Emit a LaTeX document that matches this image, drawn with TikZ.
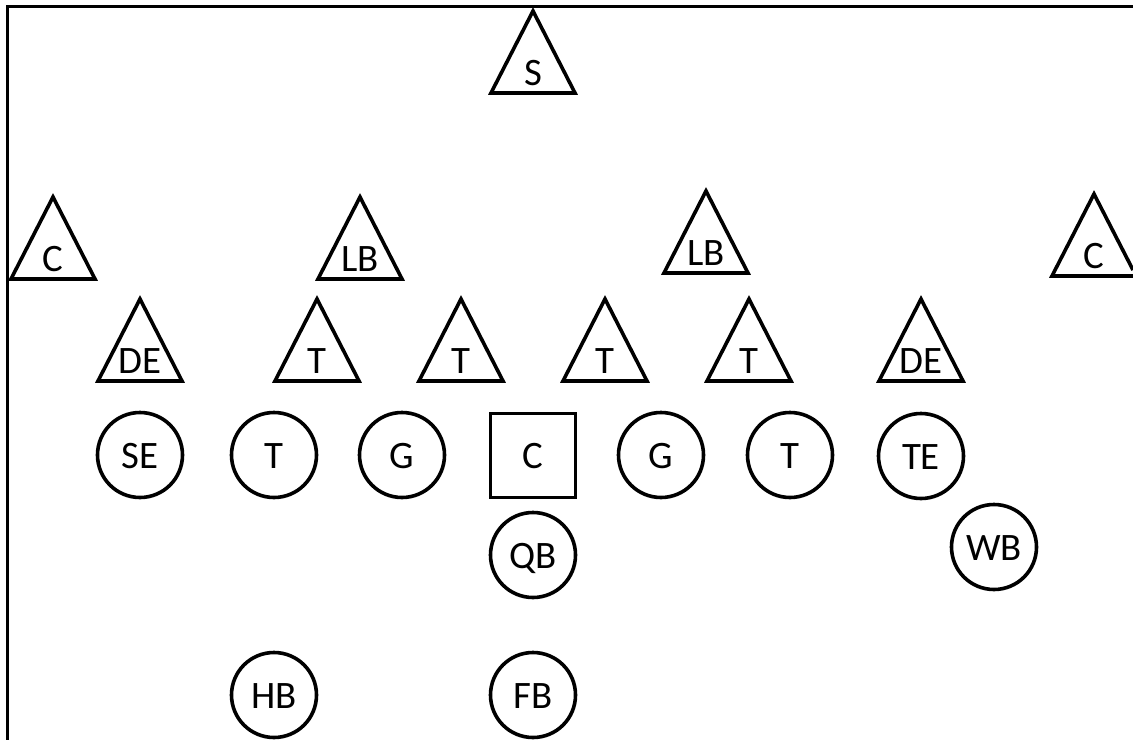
\documentclass[tikz,border=0pt]{standalone}
\usepackage{fontspec}
\setmainfont{Carlito}
\tikzset{
  pl/.style={line width=3.6bp, draw=black, line join=miter},
  lbl/.style={font=\fontsize{39}{42}\selectfont, inner sep=0pt, anchor=base},
  ring/.style={pl, circle, minimum size=85bp, inner sep=0pt},
  sq/.style={pl, rectangle, minimum width=85bp, minimum height=84bp, inner sep=0pt}
}
\newcommand\mytri[4]{%
  \draw[pl] (#2,#3+4) -- (#2+42,#3+86) -- (#2-42,#3+86) -- cycle;
  \node[lbl] (#1) at (#2,#3+78.5) {#4};
}
\newcommand\myring[4]{%
  \node[ring] (#1) at (#2,#3) {};
  \node[lbl] (#1-t) at (#2,#3+13) {#4};
}
\begin{document}
\begin{tikzpicture}[x=1bp,y=-1bp]
  \useasboundingbox (0,0) rectangle (1133,740);
  % frame
  \draw[line width=2.6bp] (7.5,740) -- (7.5,6.5) -- (1133,6.5);
  % defence
  \mytri{s}{533}{7}{S}
  \mytri{cl}{53}{193}{C}
  \mytri{lbl}{360}{193}{LB}
  \mytri{lbr}{706}{187}{LB}
  % right C, cut by the picture's edge
  \draw[pl] (1133,270) -- (1094,194) -- (1052,276) -- (1133,276);
  \node[lbl] (cr) at (1094,268.5) {C};
  \mytri{del}{140}{295}{DE}
  \mytri{t1}{317}{295}{T}
  \mytri{t2}{461}{295}{T}
  \mytri{t3}{605}{295}{T}
  \mytri{t4}{749}{295}{T}
  \mytri{der}{921}{295}{DE}
  % offence
  \myring{se}{140}{455}{SE}
  \myring{ot1}{274}{455}{T}
  \myring{g1}{402}{455}{G}
  \node[sq] (c) at (533,455.5) {};
  \node[lbl] (c-t) at (533,468) {C};
  \myring{g2}{661}{455}{G}
  \myring{ot2}{790}{455}{T}
  \myring{te}{921}{456}{TE}
  \myring{qb}{533}{555}{QB}
  \myring{wb}{994}{547}{WB}
  \myring{hb}{274}{695}{HB}
  \myring{fb}{533}{695}{FB}
\end{tikzpicture}
\end{document}
